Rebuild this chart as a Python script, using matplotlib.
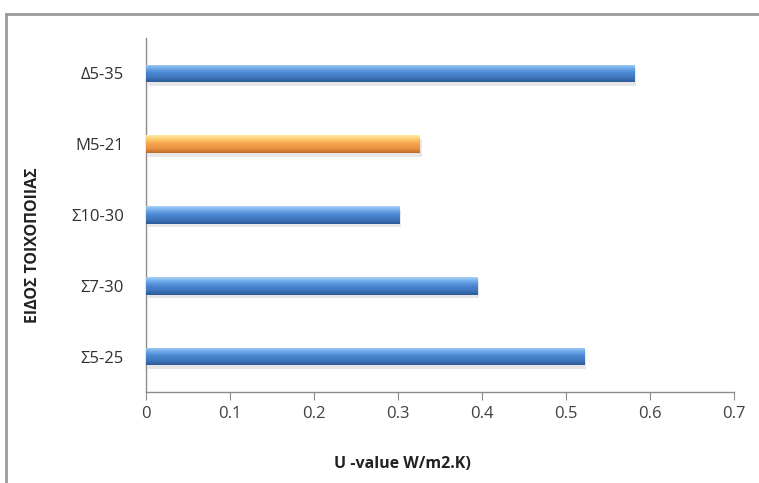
import numpy as np
import matplotlib.pyplot as plt
from matplotlib.colors import LinearSegmentedColormap
from matplotlib.patches import Rectangle
from matplotlib.lines import Line2D

# dados (de baixo para cima)
categorias = ['Σ5-25', 'Σ7-30', 'Σ10-30', 'M5-21', 'Δ5-35']
u_values = [0.522, 0.395, 0.302, 0.326, 0.581]
tipo_cor = ['azul', 'azul', 'azul', 'laranja', 'azul']
x_ticks = [0, 0.1, 0.2, 0.3, 0.4, 0.5, 0.6, 0.7]

gradientes = {
    'azul': ['#a9d2f5', '#6aa6e6', '#4a86d0', '#3f77bf', '#2c5a96'],
    'laranja': ['#ffe9a0', '#fcc76a', '#f5a04a', '#ec9240', '#b96a2a'],
}

plt.rcParams['font.family'] = ['Open Sans', 'DejaVu Sans']

fig = plt.figure(figsize=(7.59, 4.83), dpi=100)
fig.patch.set_facecolor('white')

# moldura externa
fig.add_artist(Line2D([6 / 759, 6 / 759], [0, 1 - 14 / 483], color='#9a9a9a', lw=2.0))
fig.add_artist(Line2D([6 / 759, 1], [1 - 14 / 483, 1 - 14 / 483], color='#9a9a9a', lw=2.0))

ax = fig.add_axes([146 / 759, 1 - 392 / 483, (734 - 146) / 759, (392 - 38) / 483])

y = np.arange(len(categorias))
altura = 0.25
grad = np.linspace(0, 1, 64).reshape(-1, 1)

for yi, v, cor in zip(y, u_values, tipo_cor):
    # sombra
    ax.add_patch(Rectangle((0.002, yi - altura / 2 - 0.05), v, altura, facecolor='#b0b0b0',
                           edgecolor='none', alpha=0.3, zorder=1))
    barra = ax.barh(yi, v, height=altura, color='none', edgecolor='none', zorder=2)[0]
    cmap = LinearSegmentedColormap.from_list(cor, gradientes[cor])
    im = ax.imshow(grad, cmap=cmap, aspect='auto', origin='upper',
                   extent=(0, v, yi - altura / 2, yi + altura / 2), zorder=3)
    im.set_clip_path(barra)

ax.set_xlim(0, 0.7)
ax.set_ylim(-0.5, len(categorias) - 0.5)
ax.set_xticks(x_ticks)
ax.set_xticklabels([f'{t:g}' for t in x_ticks], fontsize=12, color='#404040')
ax.set_yticks(y)
ax.set_yticklabels(categorias, fontsize=12, color='#303030')
ax.tick_params(axis='y', length=0, pad=16)
ax.tick_params(axis='x', length=6, color='#8c8c8c', pad=4)

for lado in ['top', 'right']:
    ax.spines[lado].set_visible(False)
for lado in ['left', 'bottom']:
    ax.spines[lado].set_color('#8c8c8c')
    ax.spines[lado].set_linewidth(1.0)

fig.text(402 / 759, 1 - 464 / 483, 'U -value W/m2.K)', fontsize=11.5, fontweight='bold',
         color='#222222', ha='center', va='center')
fig.text(33 / 759, 1 - 245 / 483, 'ΕΙΔΟΣ ΤΟΙΧΟΠΟΙΙΑΣ', fontsize=11.5, fontweight='bold',
         color='#222222', ha='center', va='center', rotation=90)

fig.savefig('out.png', dpi=100)
